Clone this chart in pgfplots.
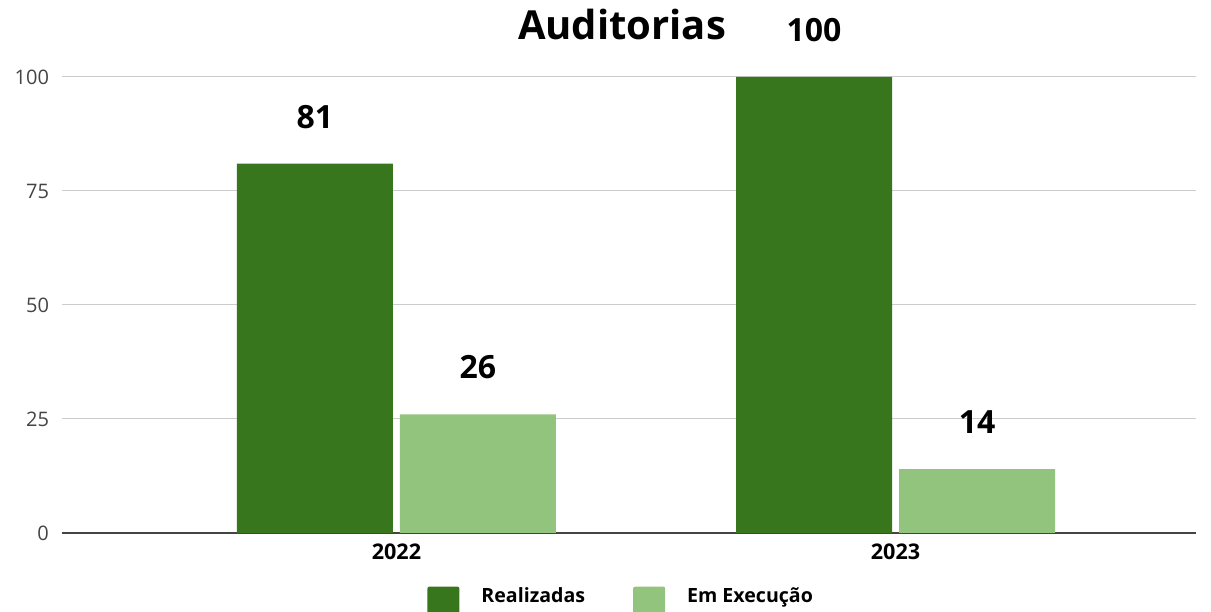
\documentclass[border=0pt]{standalone}
\usepackage{fontspec}
\setmainfont{Open Sans}
\usepackage{pgfplots}
\pgfplotsset{compat=1.18}
\definecolor{darkg}{HTML}{38761D}
\definecolor{lightg}{HTML}{93C47D}
\definecolor{gridc}{HTML}{CCCCCC}
\definecolor{tickc}{HTML}{444444}
\begin{document}
\begin{tikzpicture}
\path[use as bounding box] (0,0) rectangle (605.5pt,305.5pt);
\begin{axis}[
  at={(31pt,39pt)}, anchor=south west,
  scale only axis, width=567pt, height=228pt,
  xmin=-0.670, xmax=1.602, ymin=0, ymax=100,
  ybar, bar width=78pt,
  xtick={0,1}, xticklabels={\textbf{2022},\textbf{2023}},
  ytick={0,25,50,75,100},
  ymajorgrids, grid style={gridc, line width=0.5pt},
  axis x line*=bottom, axis y line*=left,
  x axis line style={draw=tickc, line width=1pt, -},
  y axis line style={draw=none},
  major tick length=0pt,
  tick style={draw=none},
  /pgf/number format/assume math mode=true,
  xticklabel style={font=\fontsize{10.8}{12}\selectfont, text=black, yshift=-2pt},
  yticklabel style={font=\fontsize{10}{11}\selectfont, text=tickc, xshift=-3pt},
  nodes near coords,
  every node near coord/.append style={font=\fontsize{16}{18}\bfseries\selectfont, text=black, anchor=center, yshift=23.5pt},
  legend columns=2,
  legend style={at={(0.494,-0.145)}, anchor=center, draw=none, fill=none,
    font=\fontsize{9.8}{11}\bfseries\selectfont,
    /tikz/every even column/.append style={column sep=22pt},
    /tikz/every odd column/.append style={column sep=0pt}},
  legend image code/.code={\fill[#1, rounded corners=1pt] (0pt,-9pt) rectangle (16pt,5pt);},
  clip=false,
]
\addplot[ybar, fill=darkg, draw=none, bar shift=-40.75pt] coordinates {(0,81) (1,100)};
\addplot[ybar, fill=lightg, draw=none, bar shift=40.75pt] coordinates {(0,26) (1,14)};
\legend{\hspace{9pt}Realizadas, \hspace{9pt}Em Execução}
\end{axis}
\node[font=\fontsize{20}{22}\bfseries\selectfont] at (311pt,293pt) {Auditorias};
\end{tikzpicture}
\end{document}
